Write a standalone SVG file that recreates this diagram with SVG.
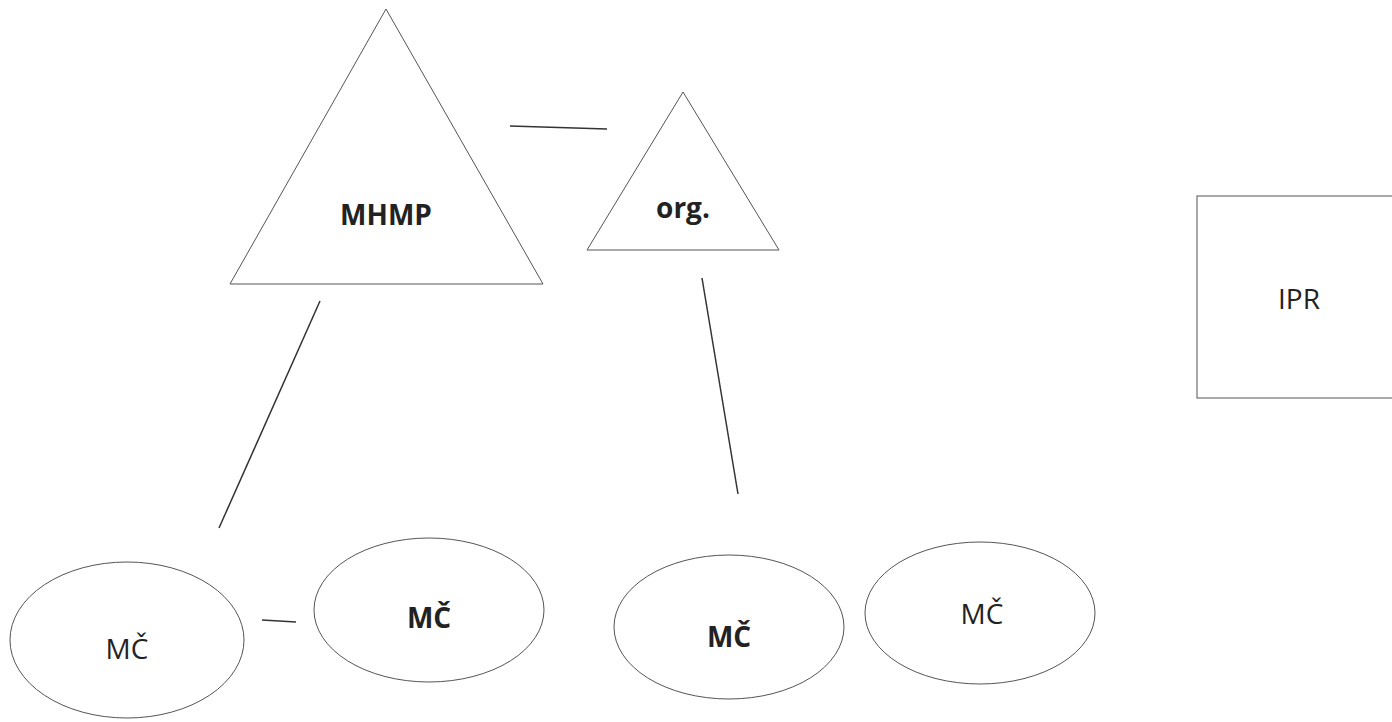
<svg xmlns="http://www.w3.org/2000/svg" width="1392" height="722" viewBox="0 0 1392 722">
<style>
.shape{fill:#fff;stroke:#555;stroke-width:1}
.conn{stroke:#333;stroke-width:1.5;fill:none}
.t{font-family:"Open Sans","Liberation Sans",sans-serif;font-size:28px;fill:#222;text-anchor:middle}
.b{font-weight:bold}
</style>
<rect width="1392" height="722" fill="#fff"/>
<g id="connectors">
<line class="conn" x1="510" y1="126" x2="607" y2="129"/>
<line class="conn" x1="320" y1="301" x2="219" y2="528"/>
<line class="conn" x1="702" y1="278" x2="738" y2="494"/>
<line class="conn" x1="262" y1="620" x2="296" y2="622"/>
</g>
<g id="mhmp">
<polygon class="shape" points="386,9 543,284 230,284"/>
<text class="t b" x="386" y="225">MHMP</text>
</g>
<g id="org">
<polygon class="shape" points="683,92 779,250 587,250"/>
<text class="t b" x="683" y="218">org.</text>
</g>
<g id="ipr">
<rect class="shape" x="1197" y="196" width="200" height="202"/>
<text class="t" x="1299" y="309">IPR</text>
</g>
<g id="mc1">
<ellipse class="shape" cx="127" cy="640" rx="117" ry="78"/>
<text class="t" x="127" y="659">MČ</text>
</g>
<g id="mc2">
<ellipse class="shape" cx="429" cy="610" rx="115" ry="72"/>
<text class="t b" x="429" y="628">MČ</text>
</g>
<g id="mc3">
<ellipse class="shape" cx="729" cy="627" rx="115" ry="72"/>
<text class="t b" x="729" y="647">MČ</text>
</g>
<g id="mc4">
<ellipse class="shape" cx="980" cy="613" rx="115" ry="71"/>
<text class="t" x="982" y="624">MČ</text>
</g>
</svg>
